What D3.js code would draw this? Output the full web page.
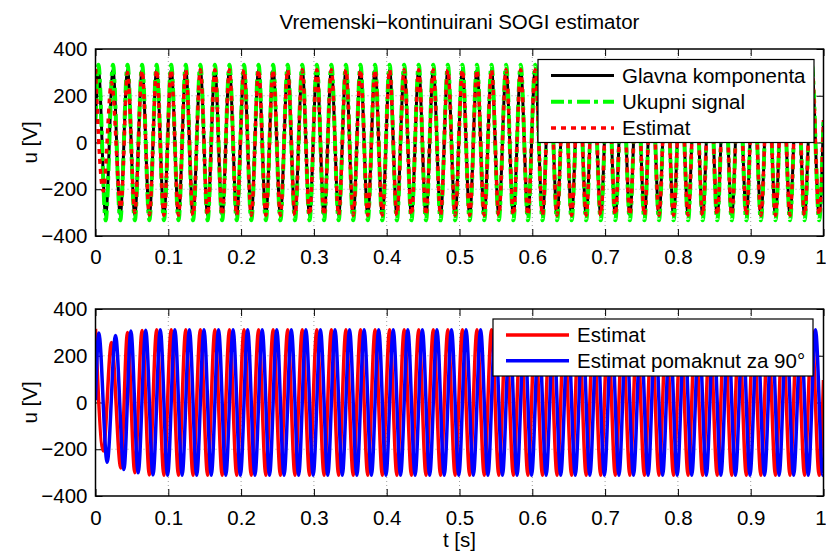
<!DOCTYPE html>
<html>
<head>
<meta charset="utf-8">
<script src="https://cdnjs.cloudflare.com/ajax/libs/d3/7.8.5/d3.min.js"></script>
<style>
  body { margin: 0; background: #fff; }
  svg { font-family: "Liberation Sans", Arial, sans-serif; }
</style>
</head>
<body>
<script>
'use strict';

// tick values and labels
const xTicks = [0, 0.1, 0.2, 0.3, 0.4, 0.5, 0.6, 0.7, 0.8, 0.9, 1];
const xTickLabels = ['0', '0.1', '0.2', '0.3', '0.4', '0.5', '0.6', '0.7', '0.8', '0.9', '1'];
const yTicks = [-400, -200, 0, 200, 400];
const yTickLabels = ['\u2212400', '\u2212200', '0', '200', '400'];

// the waves turn every half period (10 ms); times of those extremes
const tGridA = d3.range(0.004, 1, 0.01);   // Glavna komponenta, Ukupni signal, Estimat
const tGridB = d3.range(0.009, 1, 0.01);   // Estimat pomaknut za 90°

// times of the points (start, extremes, end)
const mainTime = [0].concat(tGridA, [1]);
const totalTime = [0].concat(tGridA, [1]);
const estTime = [0, 0.0106, 0.022, 0.0348, 0.044, 0.054].concat(tGridA.slice(6), [1]);
const quadTime = [0, 0.0045, 0.016, 0.0275, 0.039, 0.0486, 0.0586].concat(tGridB.slice(6), [1]);

// values read at those points [V]
const mainVal = [96,
  311,-311,311,-311,311,-311,311,-311,311,-311,
  311,-311,311,-311,311,-311,311,-311,311,-311,
  311,-311,311,-311,311,-311,311,-311,311,-311,
  311,-311,311,-311,311,-311,311,-311,311,-311,
  311,-311,311,-311,311,-311,311,-311,311,-311,
  311,-311,311,-311,311,-311,311,-311,311,-311,
  311,-311,311,-311,311,-311,311,-311,311,-311,
  311,-311,311,-311,311,-311,311,-311,311,-311,
  311,-311,311,-311,311,-311,311,-311,311,-311,
  311,-311,311,-311,311,-311,311,-311,311,-311,
  96];

const totalVal = [100,
  333,-333,333,-333,333,-333,333,-333,333,-333,
  333,-333,333,-333,333,-333,333,-333,333,-333,
  333,-333,333,-333,333,-333,333,-333,333,-333,
  333,-333,333,-333,333,-333,333,-333,333,-333,
  333,-333,333,-333,333,-333,333,-333,333,-333,
  333,-333,333,-333,333,-333,333,-333,333,-333,
  333,-333,333,-333,333,-333,333,-333,333,-333,
  333,-333,333,-333,333,-333,333,-333,333,-333,
  333,-333,333,-333,333,-333,333,-333,333,-333,
  333,-333,333,-333,333,-333,333,-333,333,-333,
  100];

const estVal = [315,
       -207,257,-280,300,-300,308,-310,311,-311,
  311,-311,311,-311,311,-311,311,-311,311,-311,
  311,-311,311,-311,311,-311,311,-311,311,-311,
  311,-311,311,-311,311,-311,311,-311,311,-311,
  311,-311,311,-311,311,-311,311,-311,311,-311,
  311,-311,311,-311,311,-311,311,-311,311,-311,
  311,-311,311,-311,311,-311,311,-311,311,-311,
  311,-311,311,-311,311,-311,311,-311,311,-311,
  311,-311,311,-311,311,-311,311,-311,311,-311,
  311,-311,311,-311,311,-311,311,-311,311,-311,
  96];

const quadVal = [10,
  297,-256,287,-287,306,-301,309,-310,311,-311,
  311,-311,311,-311,311,-311,311,-311,311,-311,
  311,-311,311,-311,311,-311,311,-311,311,-311,
  311,-311,311,-311,311,-311,311,-311,311,-311,
  311,-311,311,-311,311,-311,311,-311,311,-311,
  311,-311,311,-311,311,-311,311,-311,311,-311,
  311,-311,311,-311,311,-311,311,-311,311,-311,
  311,-311,311,-311,311,-311,311,-311,311,-311,
  311,-311,311,-311,311,-311,311,-311,311,-311,
  311,-311,311,-311,311,-311,311,-311,311,-311,
  -305];

(function() {

  let svgContainer = "";
  const left = 95.5, right = 823.5;

  window.onload = function() {
    svgContainer = d3.select('body')
      .append('svg')
      .attr('width', 826)
      .attr('height', 552);

    svgContainer.append('rect')
      .attr('width', 826).attr('height', 552).attr('fill', '#fff');

    // upper plot
    let top = drawAxes('a', 49, 236, 13);
    plotLine(top, d3.zip(mainTime, mainVal), '#000', 3, null);
    plotLine(top, d3.zip(totalTime, totalVal), '#00ff00', 4, '13,4,4,5');
    plotLine(top, d3.zip(estTime, estVal), '#ff0000', 3.5, '5,5');
    drawLegend({x: 538, y: 59.5, w: 276, h: 83, row: 26.3}, [
      {name: 'Glavna komponenta', color: '#000', width: 3, dash: null},
      {name: 'Ukupni signal', color: '#00ff00', width: 4, dash: '13,4,4,5'},
      {name: 'Estimat', color: '#ff0000', width: 3.5, dash: '5,5'}
    ]);

    // lower plot
    let bottom = drawAxes('b', 309, 496, 14);
    plotLine(bottom, d3.zip(estTime, estVal), '#ff0000', 3.5, null);
    plotLine(bottom, d3.zip(quadTime, quadVal), '#0000ff', 3.5, null);
    drawLegend({x: 493, y: 319, w: 320, h: 57, row: 25.7}, [
      {name: 'Estimat', color: '#ff0000', width: 3.5, dash: null},
      {name: 'Estimat pomaknut za 90\u00b0', color: '#0000ff', width: 3.5, dash: null}
    ]);

    makeLabels();
  }

  // draw grid and ticks of one subplot, return the scales
  function drawAxes(id, y0, y1, pad) {
    let xScale = d3.scaleLinear().domain([0, 1]).range([left, right]);
    let yScale = d3.scaleLinear().domain([-400, 400]).range([y1, y0]);

    svgContainer.append('clipPath').attr('id', 'clip-' + id)
      .append('rect')
      .attr('x', left).attr('y', y0)
      .attr('width', right - left).attr('height', y1 - y0);

    // dotted grid
    let grid = svgContainer.append('g')
      .attr('stroke', '#888')
      .attr('stroke-width', 0.8)
      .attr('stroke-dasharray', '1,3');
    grid.selectAll('.gx').data(xTicks.slice(1, -1)).enter()
      .append('line')
      .attr('x1', d => xScale(d)).attr('x2', d => xScale(d))
      .attr('y1', y0).attr('y2', y1);
    grid.selectAll('.gy').data(yTicks.slice(1, -1)).enter()
      .append('line')
      .attr('x1', left).attr('x2', right)
      .attr('y1', d => yScale(d)).attr('y2', d => yScale(d));

    let xBottom = d3.axisBottom(xScale).tickValues(xTicks)
      .tickFormat((d, i) => xTickLabels[i]).tickSize(-7).tickPadding(pad);
    let xTop = d3.axisTop(xScale).tickValues(xTicks)
      .tickFormat('').tickSize(-7);
    let yLeft = d3.axisLeft(yScale).tickValues(yTicks)
      .tickFormat((d, i) => yTickLabels[i]).tickSize(-7).tickPadding(8);
    let yRight = d3.axisRight(yScale).tickValues(yTicks)
      .tickFormat('').tickSize(-7);

    let axes = [
      [xBottom, `translate(0, ${y1})`],
      [xTop, `translate(0, ${y0})`],
      [yLeft, `translate(${left}, 0)`],
      [yRight, `translate(${right}, 0)`]
    ];
    axes.forEach(a => {
      let g = svgContainer.append('g').attr('transform', a[1]).call(a[0]);
      g.select('.domain').remove();
      g.selectAll('line').attr('stroke', '#000').attr('stroke-width', 1);
      g.selectAll('text')
        .style('font-size', '20.5px')
        .style('font-family', '"Liberation Sans", Arial, sans-serif')
        .attr('fill', '#000');
    });

    // keep the last x label ("1") inside the page
    svgContainer.selectAll('.tick text')
      .filter(d => d === 1)
      .attr('dx', -3);

    return {x: xScale, y: yScale, id: id, y0: y0, y1: y1};
  }

  // plot one series through its extremes
  function plotLine(map, points, color, width, dash) {
    let line = d3.line()
      .x(d => map.x(d[0]))
      .y(d => map.y(d[1]))
      .curve(d3.curveMonotoneX);

    svgContainer.append('path')
      .datum(points)
      .attr('clip-path', `url(#clip-${map.id})`)
      .attr('d', line)
      .attr('fill', 'none')
      .attr('stroke', color)
      .attr('stroke-width', width)
      .attr('stroke-dasharray', dash)
      .attr('stroke-linejoin', 'round');

    // box round the plot stays on top of the lines
    svgContainer.selectAll('.box-' + map.id).remove();
    svgContainer.append('rect')
      .attr('class', 'box-' + map.id)
      .attr('x', left).attr('y', map.y0)
      .attr('width', right - left).attr('height', map.y1 - map.y0)
      .attr('fill', 'none')
      .attr('stroke', '#000')
      .attr('stroke-width', 1.5);
  }

  // legend box with line samples
  function drawLegend(box, items) {
    let g = svgContainer.append('g');
    g.append('rect')
      .attr('x', box.x).attr('y', box.y)
      .attr('width', box.w).attr('height', box.h)
      .attr('fill', '#fff')
      .attr('stroke', '#000')
      .attr('stroke-width', 1.2);

    items.forEach((d, i) => {
      let cy = box.y + 16 + i * box.row;
      g.append('line')
        .attr('x1', box.x + 13).attr('x2', box.x + 76)
        .attr('y1', cy).attr('y2', cy)
        .attr('stroke', d.color)
        .attr('stroke-width', d.width)
        .attr('stroke-dasharray', d.dash);
      g.append('text')
        .attr('x', box.x + 84).attr('y', cy)
        .attr('dy', '0.35em')
        .style('font-size', '20.5px')
        .text(d.name);
    });
  }

  // title and axis labels
  function makeLabels() {
    svgContainer.append('text')
      .attr('x', (left + right) / 2)
      .attr('y', 29)
      .attr('text-anchor', 'middle')
      .style('font-size', '20.5px')
      .text('Vremenski\u2212kontinuirani SOGI estimator');

    svgContainer.append('text')
      .attr('x', (left + right) / 2)
      .attr('y', 547)
      .attr('text-anchor', 'middle')
      .style('font-size', '20.5px')
      .text('t [s]');

    [142.5, 402.5].forEach(cy => {
      svgContainer.append('text')
        .attr('transform', `translate(37, ${cy})rotate(-90)`)
        .attr('text-anchor', 'middle')
        .style('font-size', '20.5px')
        .text('u [V]');
    });
  }
})();
</script>
</body>
</html>
